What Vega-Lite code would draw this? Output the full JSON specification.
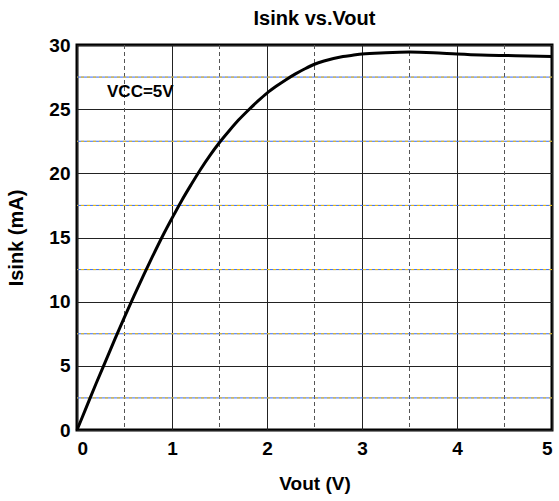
{
  "$schema": "https://vega.github.io/schema/vega-lite/v6.json",
  "autosize": "none",
  "padding": {"left": 77, "top": 45, "right": 7, "bottom": 71},
  "width": 475,
  "height": 385,
  "background": "white",
  "title": {"text": "Isink vs.Vout", "font": "Liberation Sans", "fontSize": 20, "fontWeight": "bold", "color": "#000", "anchor": "middle", "offset": 7},
  "config": {
    "view": {"stroke": "#000", "strokeWidth": 3},
    "axis": {"labelFont": "Liberation Sans", "titleFont": "Liberation Sans", "labelFontWeight": "bold", "titleFontWeight": "bold", "labelColor": "#000", "titleColor": "#000"}
  },
  "datasets": {
    "curve": [
      {"v": 0, "i": 0}, {"v": 0.1, "i": 1.8}, {"v": 0.2, "i": 3.6}, {"v": 0.3, "i": 5.35},
      {"v": 0.4, "i": 7.1}, {"v": 0.5, "i": 8.8}, {"v": 0.6, "i": 10.45}, {"v": 0.7, "i": 12.05},
      {"v": 0.8, "i": 13.6}, {"v": 0.9, "i": 15.1}, {"v": 1.0, "i": 16.5}, {"v": 1.1, "i": 17.85},
      {"v": 1.2, "i": 19.1}, {"v": 1.3, "i": 20.3}, {"v": 1.4, "i": 21.4}, {"v": 1.5, "i": 22.4},
      {"v": 1.6, "i": 23.3}, {"v": 1.7, "i": 24.15}, {"v": 1.8, "i": 24.9}, {"v": 1.9, "i": 25.6},
      {"v": 2.0, "i": 26.25}, {"v": 2.1, "i": 26.8}, {"v": 2.2, "i": 27.3}, {"v": 2.3, "i": 27.75},
      {"v": 2.4, "i": 28.15}, {"v": 2.5, "i": 28.5}, {"v": 2.6, "i": 28.75}, {"v": 2.7, "i": 28.95},
      {"v": 2.8, "i": 29.1}, {"v": 2.9, "i": 29.2}, {"v": 3.0, "i": 29.3}, {"v": 3.25, "i": 29.4},
      {"v": 3.5, "i": 29.45}, {"v": 3.75, "i": 29.4}, {"v": 4.0, "i": 29.3}, {"v": 4.25, "i": 29.22},
      {"v": 4.5, "i": 29.18}, {"v": 4.75, "i": 29.15}, {"v": 5.0, "i": 29.1}
    ],
    "xminor": [{"v": 0.5}, {"v": 1.5}, {"v": 2.5}, {"v": 3.5}, {"v": 4.5}],
    "yminor": [{"i": 2.5}, {"i": 7.5}, {"i": 12.5}, {"i": 17.5}, {"i": 22.5}, {"i": 27.5}],
    "label": [{"v": 0.316, "i": 26.3, "t": "VCC=5V"}]
  },
  "layer": [
    {
      "data": {"name": "curve"},
      "mark": {"type": "line", "opacity": 0},
      "encoding": {
        "x": {"field": "v", "type": "quantitative", "scale": {"domain": [0, 5], "nice": false},
          "axis": {"title": "Vout (V)", "values": [0, 1, 2, 3, 4, 5], "format": "d", "grid": true, "gridColor": "#222", "gridWidth": 1, "gridOpacity": 1, "domain": false, "ticks": false, "labelFontSize": 19, "labelPadding": 9, "titleFontSize": 19, "titlePadding": 16}},
        "y": {"field": "i", "type": "quantitative", "scale": {"domain": [0, 30], "nice": false},
          "axis": {"title": "Isink (mA)", "values": [0, 5, 10, 15, 20, 25, 30], "format": "d", "grid": true, "gridColor": "#222", "gridWidth": 1, "gridOpacity": 1, "domain": false, "ticks": false, "labelFontSize": 19, "labelPadding": 7, "titleFontSize": 20, "titlePadding": 22}}
      }
    },
    {
      "data": {"name": "xminor"},
      "mark": {"type": "rule", "color": "#555", "strokeWidth": 1, "strokeDash": [4, 3]},
      "encoding": {"x": {"field": "v", "type": "quantitative"}}
    },
    {
      "data": {"name": "yminor"},
      "mark": {"type": "rule", "color": "#3a6cf0", "strokeWidth": 1},
      "encoding": {"y": {"field": "i", "type": "quantitative"}}
    },
    {
      "data": {"name": "yminor"},
      "mark": {"type": "rule", "color": "#f5c000", "strokeWidth": 1, "strokeDash": [3, 3]},
      "encoding": {"y": {"field": "i", "type": "quantitative"}}
    },
    {
      "data": {"name": "curve"},
      "mark": {"type": "line", "color": "#000", "strokeWidth": 3, "interpolate": "monotone"},
      "encoding": {"x": {"field": "v", "type": "quantitative"}, "y": {"field": "i", "type": "quantitative"}}
    },
    {
      "data": {"name": "label"},
      "mark": {"type": "text", "align": "left", "baseline": "middle", "font": "Liberation Sans", "fontWeight": "bold", "fontSize": 17, "color": "#000"},
      "encoding": {"x": {"field": "v", "type": "quantitative"}, "y": {"field": "i", "type": "quantitative"}, "text": {"field": "t"}}
    }
  ]
}
